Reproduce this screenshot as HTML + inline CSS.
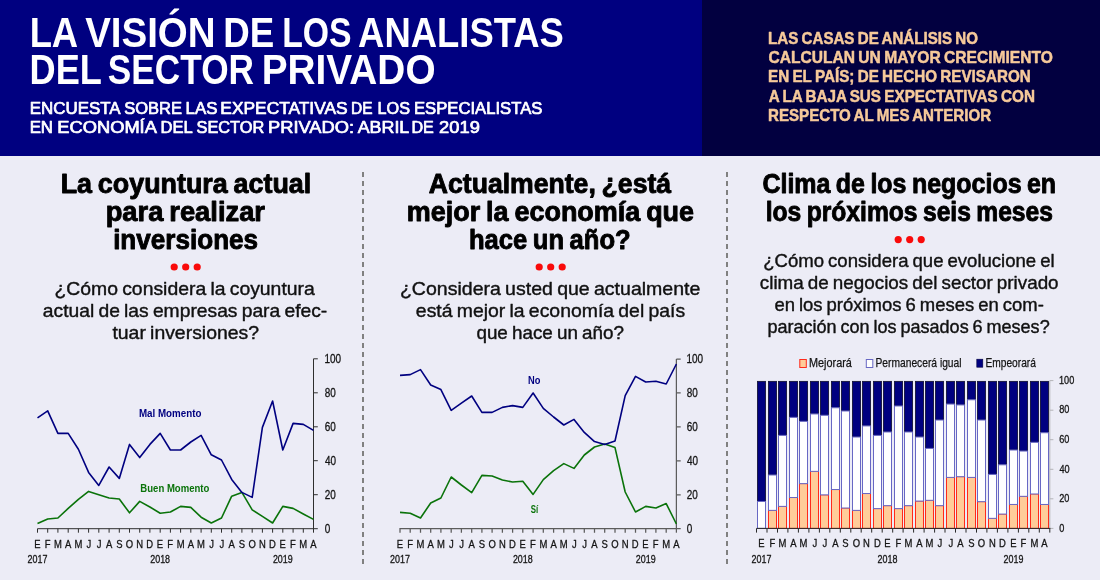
<!DOCTYPE html>
<html lang="es">
<head>
<meta charset="utf-8">
<title>La visión de los analistas del sector privado</title>
<style>
html,body{margin:0;padding:0;background:#ececf6;}
body{width:1100px;height:580px;overflow:hidden;}
svg{display:block;font-family:"Liberation Sans",sans-serif;}
text{white-space:pre;}
</style>
</head>
<body>
<svg width="1100" height="580" viewBox="0 0 1100 580">
<rect x="0" y="0" width="1100" height="580" fill="#ececf6"/>
<g id="header">
<rect x="0" y="0" width="702" height="156" fill="#000080"/>
<rect x="702" y="0" width="398" height="156" fill="#020040"/>
<text y="46.50" font-size="41.86" fill="#fff" font-weight="700"><tspan x="29.63" textLength="47.20" lengthAdjust="spacingAndGlyphs">LA</tspan> <tspan x="85.14" textLength="130.46" lengthAdjust="spacingAndGlyphs">VISIÓN</tspan> <tspan x="223.24" textLength="50.99" lengthAdjust="spacingAndGlyphs">DE</tspan> <tspan x="282.24" textLength="69.38" lengthAdjust="spacingAndGlyphs">LOS</tspan> <tspan x="358.10" textLength="205.80" lengthAdjust="spacingAndGlyphs">ANALISTAS</tspan></text>
<text y="84.00" font-size="41.86" fill="#fff" font-weight="700"><tspan x="29.60" textLength="71.70" lengthAdjust="spacingAndGlyphs">DEL</tspan> <tspan x="107.79" textLength="146.23" lengthAdjust="spacingAndGlyphs">SECTOR</tspan> <tspan x="261.65" textLength="173.96" lengthAdjust="spacingAndGlyphs">PRIVADO</tspan></text>
<text y="113.75" font-size="16.13" fill="#fff" stroke="#fff" stroke-width="0.7" stroke-linejoin="round"><tspan x="29.69" textLength="89.99" lengthAdjust="spacingAndGlyphs">ENCUESTA</tspan> <tspan x="124.20" textLength="57.76" lengthAdjust="spacingAndGlyphs">SOBRE</tspan> <tspan x="185.57" textLength="31.86" lengthAdjust="spacingAndGlyphs">LAS</tspan> <tspan x="220.37" textLength="127.25" lengthAdjust="spacingAndGlyphs">EXPECTATIVAS</tspan> <tspan x="351.08" textLength="21.54" lengthAdjust="spacingAndGlyphs">DE</tspan> <tspan x="377.52" textLength="32.48" lengthAdjust="spacingAndGlyphs">LOS</tspan> <tspan x="413.90" textLength="128.51" lengthAdjust="spacingAndGlyphs">ESPECIALISTAS</tspan></text>
<text y="133.05" font-size="16.13" fill="#fff" stroke="#fff" stroke-width="0.7" stroke-linejoin="round"><tspan x="29.67" textLength="23.35" lengthAdjust="spacingAndGlyphs">EN</tspan> <tspan x="57.37" textLength="98.52" lengthAdjust="spacingAndGlyphs">ECONOMÍA</tspan> <tspan x="160.51" textLength="31.68" lengthAdjust="spacingAndGlyphs">DEL</tspan> <tspan x="196.51" textLength="67.69" lengthAdjust="spacingAndGlyphs">SECTOR</tspan> <tspan x="268.08" textLength="85.92" lengthAdjust="spacingAndGlyphs">PRIVADO:</tspan> <tspan x="357.72" textLength="50.92" lengthAdjust="spacingAndGlyphs">ABRIL</tspan> <tspan x="411.43" textLength="22.42" lengthAdjust="spacingAndGlyphs">DE</tspan> <tspan x="439.13" textLength="40.69" lengthAdjust="spacingAndGlyphs">2019</tspan></text>
<text x="768.04" y="44.35" font-size="16.28" textLength="209.94" lengthAdjust="spacingAndGlyphs" fill="#f6c99a" font-weight="700" stroke="#f6c99a" stroke-width="0.5" stroke-linejoin="round"  word-spacing="-0.98">LAS CASAS DE ANÁLISIS NO</text>
<text x="768.42" y="63.35" font-size="16.28" textLength="284.38" lengthAdjust="spacingAndGlyphs" fill="#f6c99a" font-weight="700" stroke="#f6c99a" stroke-width="0.5" stroke-linejoin="round"  word-spacing="-0.98">CALCULAN UN MAYOR CRECIMIENTO</text>
<text x="768.04" y="82.45" font-size="16.28" textLength="262.73" lengthAdjust="spacingAndGlyphs" fill="#f6c99a" font-weight="700" stroke="#f6c99a" stroke-width="0.5" stroke-linejoin="round"  word-spacing="-0.98">EN EL PAÍS; DE HECHO REVISARON</text>
<text x="768.68" y="101.55" font-size="16.28" textLength="266.28" lengthAdjust="spacingAndGlyphs" fill="#f6c99a" font-weight="700" stroke="#f6c99a" stroke-width="0.5" stroke-linejoin="round"  word-spacing="-0.98">A LA BAJA SUS EXPECTATIVAS CON</text>
<text x="768.05" y="120.65" font-size="16.28" textLength="223.01" lengthAdjust="spacingAndGlyphs" fill="#f6c99a" font-weight="700" stroke="#f6c99a" stroke-width="0.5" stroke-linejoin="round"  word-spacing="-0.98">RESPECTO AL MES ANTERIOR</text>
</g>
<line x1="363" y1="172" x2="363" y2="564" stroke="#808080" stroke-width="2" stroke-dasharray="5 4"/>
<line x1="727" y1="172" x2="727" y2="564" stroke="#808080" stroke-width="2" stroke-dasharray="5 4"/>
<g id="panel1">
<text x="60.65" y="193.35" font-size="27.20" textLength="250.60" lengthAdjust="spacingAndGlyphs" fill="#000" font-weight="700" stroke="#000" stroke-width="0.9" stroke-linejoin="round"  word-spacing="-1.63">La coyuntura actual</text>
<text x="105.65" y="221.05" font-size="27.20" textLength="159.31" lengthAdjust="spacingAndGlyphs" fill="#000" font-weight="700" stroke="#000" stroke-width="0.9" stroke-linejoin="round"  word-spacing="-1.63">para realizar</text>
<text x="113.13" y="248.55" font-size="27.20" textLength="144.99" lengthAdjust="spacingAndGlyphs" fill="#000" font-weight="700" stroke="#000" stroke-width="0.9" stroke-linejoin="round">inversiones</text>
<circle cx="174.20" cy="267" r="3.6" fill="#f90a0a"/>
<circle cx="185.70" cy="267" r="3.6" fill="#f90a0a"/>
<circle cx="197.20" cy="267" r="3.6" fill="#f90a0a"/>
<text x="54.46" y="295.40" font-size="18.50" textLength="260.34" lengthAdjust="spacingAndGlyphs" fill="#111" stroke="#111" stroke-width="0.4" stroke-linejoin="round"  word-spacing="-1.11">¿Cómo considera la coyuntura</text>
<text x="42.88" y="317.10" font-size="18.50" textLength="284.37" lengthAdjust="spacingAndGlyphs" fill="#111" stroke="#111" stroke-width="0.4" stroke-linejoin="round"  word-spacing="-1.11">actual de las empresas para efec-</text>
<text x="112.41" y="338.80" font-size="18.50" textLength="146.61" lengthAdjust="spacingAndGlyphs" fill="#111" stroke="#111" stroke-width="0.4" stroke-linejoin="round"  word-spacing="-1.11">tuar inversiones?</text>
</g>
<g id="panel2">
<text x="428.79" y="193.35" font-size="27.20" textLength="242.30" lengthAdjust="spacingAndGlyphs" fill="#000" font-weight="700" stroke="#000" stroke-width="0.9" stroke-linejoin="round"  word-spacing="-1.63">Actualmente, ¿está</text>
<text x="406.87" y="221.05" font-size="27.20" textLength="287.20" lengthAdjust="spacingAndGlyphs" fill="#000" font-weight="700" stroke="#000" stroke-width="0.9" stroke-linejoin="round"  word-spacing="-1.63">mejor la economía que</text>
<text x="468.96" y="248.55" font-size="27.20" textLength="161.76" lengthAdjust="spacingAndGlyphs" fill="#000" font-weight="700" stroke="#000" stroke-width="0.9" stroke-linejoin="round"  word-spacing="-1.63">hace un año?</text>
<circle cx="539.20" cy="267" r="3.6" fill="#f90a0a"/>
<circle cx="550.70" cy="267" r="3.6" fill="#f90a0a"/>
<circle cx="562.20" cy="267" r="3.6" fill="#f90a0a"/>
<text x="399.95" y="295.40" font-size="18.50" textLength="300.42" lengthAdjust="spacingAndGlyphs" fill="#111" stroke="#111" stroke-width="0.4" stroke-linejoin="round"  word-spacing="-1.11">¿Considera usted que actualmente</text>
<text x="415.88" y="316.90" font-size="18.50" textLength="269.23" lengthAdjust="spacingAndGlyphs" fill="#111" stroke="#111" stroke-width="0.4" stroke-linejoin="round"  word-spacing="-1.11">está mejor la economía del país</text>
<text x="476.41" y="338.80" font-size="18.50" textLength="147.49" lengthAdjust="spacingAndGlyphs" fill="#111" stroke="#111" stroke-width="0.4" stroke-linejoin="round"  word-spacing="-1.11">que hace un año?</text>
</g>
<g id="panel3">
<text x="762.43" y="193.25" font-size="27.20" textLength="293.67" lengthAdjust="spacingAndGlyphs" fill="#000" font-weight="700" stroke="#000" stroke-width="0.9" stroke-linejoin="round"  word-spacing="-1.63">Clima de los negocios en</text>
<text x="765.73" y="221.15" font-size="27.20" textLength="287.23" lengthAdjust="spacingAndGlyphs" fill="#000" font-weight="700" stroke="#000" stroke-width="0.9" stroke-linejoin="round"  word-spacing="-1.63">los próximos seis meses</text>
<circle cx="898.20" cy="239.6" r="3.6" fill="#f90a0a"/>
<circle cx="909.70" cy="239.6" r="3.6" fill="#f90a0a"/>
<circle cx="921.20" cy="239.6" r="3.6" fill="#f90a0a"/>
<text x="763.21" y="267.00" font-size="18.50" textLength="291.43" lengthAdjust="spacingAndGlyphs" fill="#111" stroke="#111" stroke-width="0.4" stroke-linejoin="round"  word-spacing="-1.11">¿Cómo considera que evolucione el</text>
<text x="759.80" y="289.00" font-size="18.50" textLength="298.79" lengthAdjust="spacingAndGlyphs" fill="#111" stroke="#111" stroke-width="0.4" stroke-linejoin="round"  word-spacing="-1.11">clima de negocios del sector privado</text>
<text x="774.42" y="311.00" font-size="18.50" textLength="269.40" lengthAdjust="spacingAndGlyphs" fill="#111" stroke="#111" stroke-width="0.4" stroke-linejoin="round"  word-spacing="-1.11">en los próximos 6 meses en com-</text>
<text x="767.44" y="333.00" font-size="18.50" textLength="282.23" lengthAdjust="spacingAndGlyphs" fill="#111" stroke="#111" stroke-width="0.4" stroke-linejoin="round"  word-spacing="-1.11">paración con los pasados 6 meses?</text>
</g>
<g id="chart1">
<path d="M37.5 532.7V528.7H313.5" fill="none" stroke="#2e2e2e" stroke-width="1"/>
<path d="M313.5 358.8V532.7" fill="none" stroke="#2e2e2e" stroke-width="1"/>
<path d="M47.7 528.7v4M57.9 528.7v4M68.2 528.7v4M78.4 528.7v4M88.6 528.7v4M98.8 528.7v4M109.1 528.7v4M119.3 528.7v4M129.5 528.7v4M139.7 528.7v4M149.9 528.7v4M160.2 528.7v4M170.4 528.7v4M180.6 528.7v4M190.8 528.7v4M201.1 528.7v4M211.3 528.7v4M221.5 528.7v4M231.7 528.7v4M241.9 528.7v4M252.2 528.7v4M262.4 528.7v4M272.6 528.7v4M282.8 528.7v4M293.1 528.7v4M303.3 528.7v4M313.5 358.8h4.3M313.5 392.8h4.3M313.5 426.8h4.3M313.5 460.7h4.3M313.5 494.7h4.3M313.5 528.7h4.3" fill="none" stroke="#2e2e2e" stroke-width="1"/>
<text x="324.49" y="362.65" font-size="12.00" textLength="16.62" lengthAdjust="spacingAndGlyphs" fill="#141414" stroke="#141414" stroke-width="0.3" stroke-linejoin="round">100</text>
<text x="324.82" y="396.63" font-size="12.00" textLength="11.08" lengthAdjust="spacingAndGlyphs" fill="#141414" stroke="#141414" stroke-width="0.3" stroke-linejoin="round">80</text>
<text x="324.74" y="430.61" font-size="12.00" textLength="11.08" lengthAdjust="spacingAndGlyphs" fill="#141414" stroke="#141414" stroke-width="0.3" stroke-linejoin="round">60</text>
<text x="325.02" y="464.59" font-size="12.00" textLength="11.08" lengthAdjust="spacingAndGlyphs" fill="#141414" stroke="#141414" stroke-width="0.3" stroke-linejoin="round">40</text>
<text x="324.75" y="498.57" font-size="12.00" textLength="11.08" lengthAdjust="spacingAndGlyphs" fill="#141414" stroke="#141414" stroke-width="0.3" stroke-linejoin="round">20</text>
<text x="324.86" y="532.55" font-size="12.00" textLength="5.54" lengthAdjust="spacingAndGlyphs" fill="#141414" stroke="#141414" stroke-width="0.3" stroke-linejoin="round">0</text>
<text x="34.16" y="547.85" font-size="11.00" textLength="6.31" lengthAdjust="spacingAndGlyphs" fill="#141414" stroke="#141414" stroke-width="0.3" stroke-linejoin="round">E</text>
<text x="44.63" y="547.85" font-size="11.00" textLength="5.78" lengthAdjust="spacingAndGlyphs" fill="#141414" stroke="#141414" stroke-width="0.3" stroke-linejoin="round">F</text>
<text x="54.00" y="547.85" font-size="11.00" textLength="7.88" lengthAdjust="spacingAndGlyphs" fill="#141414" stroke="#141414" stroke-width="0.3" stroke-linejoin="round">M</text>
<text x="65.01" y="547.85" font-size="11.00" textLength="6.31" lengthAdjust="spacingAndGlyphs" fill="#141414" stroke="#141414" stroke-width="0.3" stroke-linejoin="round">A</text>
<text x="74.45" y="547.85" font-size="11.00" textLength="7.88" lengthAdjust="spacingAndGlyphs" fill="#141414" stroke="#141414" stroke-width="0.3" stroke-linejoin="round">M</text>
<text x="86.52" y="547.85" font-size="11.00" textLength="4.73" lengthAdjust="spacingAndGlyphs" fill="#141414" stroke="#141414" stroke-width="0.3" stroke-linejoin="round">J</text>
<text x="96.75" y="547.85" font-size="11.00" textLength="4.73" lengthAdjust="spacingAndGlyphs" fill="#141414" stroke="#141414" stroke-width="0.3" stroke-linejoin="round">J</text>
<text x="105.90" y="547.85" font-size="11.00" textLength="6.31" lengthAdjust="spacingAndGlyphs" fill="#141414" stroke="#141414" stroke-width="0.3" stroke-linejoin="round">A</text>
<text x="116.13" y="547.85" font-size="11.00" textLength="6.31" lengthAdjust="spacingAndGlyphs" fill="#141414" stroke="#141414" stroke-width="0.3" stroke-linejoin="round">S</text>
<text x="125.82" y="547.85" font-size="11.00" textLength="7.36" lengthAdjust="spacingAndGlyphs" fill="#141414" stroke="#141414" stroke-width="0.3" stroke-linejoin="round">O</text>
<text x="136.30" y="547.85" font-size="11.00" textLength="6.83" lengthAdjust="spacingAndGlyphs" fill="#141414" stroke="#141414" stroke-width="0.3" stroke-linejoin="round">N</text>
<text x="146.37" y="547.85" font-size="11.00" textLength="6.83" lengthAdjust="spacingAndGlyphs" fill="#141414" stroke="#141414" stroke-width="0.3" stroke-linejoin="round">D</text>
<text x="156.83" y="547.85" font-size="11.00" textLength="6.31" lengthAdjust="spacingAndGlyphs" fill="#141414" stroke="#141414" stroke-width="0.3" stroke-linejoin="round">E</text>
<text x="167.30" y="547.85" font-size="11.00" textLength="5.78" lengthAdjust="spacingAndGlyphs" fill="#141414" stroke="#141414" stroke-width="0.3" stroke-linejoin="round">F</text>
<text x="176.67" y="547.85" font-size="11.00" textLength="7.88" lengthAdjust="spacingAndGlyphs" fill="#141414" stroke="#141414" stroke-width="0.3" stroke-linejoin="round">M</text>
<text x="187.68" y="547.85" font-size="11.00" textLength="6.31" lengthAdjust="spacingAndGlyphs" fill="#141414" stroke="#141414" stroke-width="0.3" stroke-linejoin="round">A</text>
<text x="197.12" y="547.85" font-size="11.00" textLength="7.88" lengthAdjust="spacingAndGlyphs" fill="#141414" stroke="#141414" stroke-width="0.3" stroke-linejoin="round">M</text>
<text x="209.19" y="547.85" font-size="11.00" textLength="4.73" lengthAdjust="spacingAndGlyphs" fill="#141414" stroke="#141414" stroke-width="0.3" stroke-linejoin="round">J</text>
<text x="219.41" y="547.85" font-size="11.00" textLength="4.73" lengthAdjust="spacingAndGlyphs" fill="#141414" stroke="#141414" stroke-width="0.3" stroke-linejoin="round">J</text>
<text x="228.57" y="547.85" font-size="11.00" textLength="6.31" lengthAdjust="spacingAndGlyphs" fill="#141414" stroke="#141414" stroke-width="0.3" stroke-linejoin="round">A</text>
<text x="238.79" y="547.85" font-size="11.00" textLength="6.31" lengthAdjust="spacingAndGlyphs" fill="#141414" stroke="#141414" stroke-width="0.3" stroke-linejoin="round">S</text>
<text x="248.49" y="547.85" font-size="11.00" textLength="7.36" lengthAdjust="spacingAndGlyphs" fill="#141414" stroke="#141414" stroke-width="0.3" stroke-linejoin="round">O</text>
<text x="258.97" y="547.85" font-size="11.00" textLength="6.83" lengthAdjust="spacingAndGlyphs" fill="#141414" stroke="#141414" stroke-width="0.3" stroke-linejoin="round">N</text>
<text x="269.03" y="547.85" font-size="11.00" textLength="6.83" lengthAdjust="spacingAndGlyphs" fill="#141414" stroke="#141414" stroke-width="0.3" stroke-linejoin="round">D</text>
<text x="279.49" y="547.85" font-size="11.00" textLength="6.31" lengthAdjust="spacingAndGlyphs" fill="#141414" stroke="#141414" stroke-width="0.3" stroke-linejoin="round">E</text>
<text x="289.97" y="547.85" font-size="11.00" textLength="5.78" lengthAdjust="spacingAndGlyphs" fill="#141414" stroke="#141414" stroke-width="0.3" stroke-linejoin="round">F</text>
<text x="299.34" y="547.85" font-size="11.00" textLength="7.88" lengthAdjust="spacingAndGlyphs" fill="#141414" stroke="#141414" stroke-width="0.3" stroke-linejoin="round">M</text>
<text x="310.35" y="547.85" font-size="11.00" textLength="6.31" lengthAdjust="spacingAndGlyphs" fill="#141414" stroke="#141414" stroke-width="0.3" stroke-linejoin="round">A</text>
<text x="27.57" y="562.85" font-size="11.30" textLength="19.86" lengthAdjust="spacingAndGlyphs" fill="#141414" stroke="#141414" stroke-width="0.3" stroke-linejoin="round">2017</text>
<text x="150.21" y="562.85" font-size="11.30" textLength="19.86" lengthAdjust="spacingAndGlyphs" fill="#141414" stroke="#141414" stroke-width="0.3" stroke-linejoin="round">2018</text>
<text x="272.89" y="562.85" font-size="11.30" textLength="19.86" lengthAdjust="spacingAndGlyphs" fill="#141414" stroke="#141414" stroke-width="0.3" stroke-linejoin="round">2019</text>
<path d="M37.5 523.4 L47.7 519.0 L57.9 518.0 L68.2 508.4 L78.4 499.4 L88.6 491.4 L98.8 494.8 L109.1 498.0 L119.3 499.0 L129.5 512.8 L139.7 501.4 L149.9 507.0 L160.2 513.2 L170.4 512.0 L180.6 506.4 L190.8 507.4 L201.1 517.2 L211.3 523.0 L221.5 518.0 L231.7 496.2 L241.9 492.4 L252.2 509.8 L262.4 516.4 L272.6 523.0 L282.8 506.4 L293.1 508.4 L303.3 514.0 L313.5 519.4" fill="none" stroke="#0a730a" stroke-width="1.6" stroke-linejoin="round" stroke-linecap="butt"/>
<path d="M37.5 417.8 L47.7 410.8 L57.9 433.4 L68.2 433.4 L78.4 449.2 L88.6 472.4 L98.8 485.4 L109.1 467.0 L119.3 478.4 L129.5 444.4 L139.7 457.6 L149.9 444.4 L160.2 433.4 L170.4 450.0 L180.6 450.0 L190.8 442.0 L201.1 435.4 L211.3 454.8 L221.5 460.0 L231.7 479.4 L241.9 492.4 L252.2 497.4 L262.4 427.4 L272.6 401.0 L282.8 450.0 L293.1 423.4 L303.3 424.4 L313.5 430.4" fill="none" stroke="#000080" stroke-width="1.6" stroke-linejoin="round" stroke-linecap="butt"/>
<text x="138.95" y="416.90" font-size="11.48" textLength="62.44" lengthAdjust="spacingAndGlyphs" fill="#000080" font-weight="700">Mal Momento</text>
<text x="140.36" y="491.90" font-size="11.48" textLength="69.01" lengthAdjust="spacingAndGlyphs" fill="#0a730a" font-weight="700">Buen Momento</text>
</g>
<g id="chart2">
<path d="M400.0 532.7V528.7H676.4" fill="none" stroke="#5c5c5c" stroke-width="1.25"/>
<path d="M676.4 359.0V532.7" fill="none" stroke="#5c5c5c" stroke-width="1.25"/>
<path d="M410.2 528.7v4M420.5 528.7v4M430.7 528.7v4M440.9 528.7v4M451.2 528.7v4M461.4 528.7v4M471.7 528.7v4M481.9 528.7v4M492.1 528.7v4M502.4 528.7v4M512.6 528.7v4M522.8 528.7v4M533.1 528.7v4M543.3 528.7v4M553.6 528.7v4M563.8 528.7v4M574.0 528.7v4M584.3 528.7v4M594.5 528.7v4M604.7 528.7v4M615.0 528.7v4M625.2 528.7v4M635.5 528.7v4M645.7 528.7v4M655.9 528.7v4M666.2 528.7v4M676.4 359.0h4.3M676.4 392.9h4.3M676.4 426.9h4.3M676.4 460.8h4.3M676.4 494.8h4.3M676.4 528.7h4.3" fill="none" stroke="#5c5c5c" stroke-width="1.25"/>
<text x="686.49" y="362.85" font-size="12.00" textLength="16.62" lengthAdjust="spacingAndGlyphs" fill="#141414" stroke="#141414" stroke-width="0.3" stroke-linejoin="round">100</text>
<text x="686.82" y="396.79" font-size="12.00" textLength="11.08" lengthAdjust="spacingAndGlyphs" fill="#141414" stroke="#141414" stroke-width="0.3" stroke-linejoin="round">80</text>
<text x="686.74" y="430.73" font-size="12.00" textLength="11.08" lengthAdjust="spacingAndGlyphs" fill="#141414" stroke="#141414" stroke-width="0.3" stroke-linejoin="round">60</text>
<text x="687.02" y="464.67" font-size="12.00" textLength="11.08" lengthAdjust="spacingAndGlyphs" fill="#141414" stroke="#141414" stroke-width="0.3" stroke-linejoin="round">40</text>
<text x="686.75" y="498.61" font-size="12.00" textLength="11.08" lengthAdjust="spacingAndGlyphs" fill="#141414" stroke="#141414" stroke-width="0.3" stroke-linejoin="round">20</text>
<text x="686.86" y="532.55" font-size="12.00" textLength="5.54" lengthAdjust="spacingAndGlyphs" fill="#141414" stroke="#141414" stroke-width="0.3" stroke-linejoin="round">0</text>
<text x="396.66" y="547.85" font-size="11.00" textLength="6.31" lengthAdjust="spacingAndGlyphs" fill="#141414" stroke="#141414" stroke-width="0.3" stroke-linejoin="round">E</text>
<text x="407.15" y="547.85" font-size="11.00" textLength="5.78" lengthAdjust="spacingAndGlyphs" fill="#141414" stroke="#141414" stroke-width="0.3" stroke-linejoin="round">F</text>
<text x="416.53" y="547.85" font-size="11.00" textLength="7.88" lengthAdjust="spacingAndGlyphs" fill="#141414" stroke="#141414" stroke-width="0.3" stroke-linejoin="round">M</text>
<text x="427.56" y="547.85" font-size="11.00" textLength="6.31" lengthAdjust="spacingAndGlyphs" fill="#141414" stroke="#141414" stroke-width="0.3" stroke-linejoin="round">A</text>
<text x="437.01" y="547.85" font-size="11.00" textLength="7.88" lengthAdjust="spacingAndGlyphs" fill="#141414" stroke="#141414" stroke-width="0.3" stroke-linejoin="round">M</text>
<text x="449.10" y="547.85" font-size="11.00" textLength="4.73" lengthAdjust="spacingAndGlyphs" fill="#141414" stroke="#141414" stroke-width="0.3" stroke-linejoin="round">J</text>
<text x="459.33" y="547.85" font-size="11.00" textLength="4.73" lengthAdjust="spacingAndGlyphs" fill="#141414" stroke="#141414" stroke-width="0.3" stroke-linejoin="round">J</text>
<text x="468.50" y="547.85" font-size="11.00" textLength="6.31" lengthAdjust="spacingAndGlyphs" fill="#141414" stroke="#141414" stroke-width="0.3" stroke-linejoin="round">A</text>
<text x="478.74" y="547.85" font-size="11.00" textLength="6.31" lengthAdjust="spacingAndGlyphs" fill="#141414" stroke="#141414" stroke-width="0.3" stroke-linejoin="round">S</text>
<text x="488.46" y="547.85" font-size="11.00" textLength="7.36" lengthAdjust="spacingAndGlyphs" fill="#141414" stroke="#141414" stroke-width="0.3" stroke-linejoin="round">O</text>
<text x="498.95" y="547.85" font-size="11.00" textLength="6.83" lengthAdjust="spacingAndGlyphs" fill="#141414" stroke="#141414" stroke-width="0.3" stroke-linejoin="round">N</text>
<text x="509.03" y="547.85" font-size="11.00" textLength="6.83" lengthAdjust="spacingAndGlyphs" fill="#141414" stroke="#141414" stroke-width="0.3" stroke-linejoin="round">D</text>
<text x="519.50" y="547.85" font-size="11.00" textLength="6.31" lengthAdjust="spacingAndGlyphs" fill="#141414" stroke="#141414" stroke-width="0.3" stroke-linejoin="round">E</text>
<text x="529.99" y="547.85" font-size="11.00" textLength="5.78" lengthAdjust="spacingAndGlyphs" fill="#141414" stroke="#141414" stroke-width="0.3" stroke-linejoin="round">F</text>
<text x="539.38" y="547.85" font-size="11.00" textLength="7.88" lengthAdjust="spacingAndGlyphs" fill="#141414" stroke="#141414" stroke-width="0.3" stroke-linejoin="round">M</text>
<text x="550.40" y="547.85" font-size="11.00" textLength="6.31" lengthAdjust="spacingAndGlyphs" fill="#141414" stroke="#141414" stroke-width="0.3" stroke-linejoin="round">A</text>
<text x="559.85" y="547.85" font-size="11.00" textLength="7.88" lengthAdjust="spacingAndGlyphs" fill="#141414" stroke="#141414" stroke-width="0.3" stroke-linejoin="round">M</text>
<text x="571.94" y="547.85" font-size="11.00" textLength="4.73" lengthAdjust="spacingAndGlyphs" fill="#141414" stroke="#141414" stroke-width="0.3" stroke-linejoin="round">J</text>
<text x="582.18" y="547.85" font-size="11.00" textLength="4.73" lengthAdjust="spacingAndGlyphs" fill="#141414" stroke="#141414" stroke-width="0.3" stroke-linejoin="round">J</text>
<text x="591.35" y="547.85" font-size="11.00" textLength="6.31" lengthAdjust="spacingAndGlyphs" fill="#141414" stroke="#141414" stroke-width="0.3" stroke-linejoin="round">A</text>
<text x="601.59" y="547.85" font-size="11.00" textLength="6.31" lengthAdjust="spacingAndGlyphs" fill="#141414" stroke="#141414" stroke-width="0.3" stroke-linejoin="round">S</text>
<text x="611.30" y="547.85" font-size="11.00" textLength="7.36" lengthAdjust="spacingAndGlyphs" fill="#141414" stroke="#141414" stroke-width="0.3" stroke-linejoin="round">O</text>
<text x="621.80" y="547.85" font-size="11.00" textLength="6.83" lengthAdjust="spacingAndGlyphs" fill="#141414" stroke="#141414" stroke-width="0.3" stroke-linejoin="round">N</text>
<text x="631.87" y="547.85" font-size="11.00" textLength="6.83" lengthAdjust="spacingAndGlyphs" fill="#141414" stroke="#141414" stroke-width="0.3" stroke-linejoin="round">D</text>
<text x="642.35" y="547.85" font-size="11.00" textLength="6.31" lengthAdjust="spacingAndGlyphs" fill="#141414" stroke="#141414" stroke-width="0.3" stroke-linejoin="round">E</text>
<text x="652.84" y="547.85" font-size="11.00" textLength="5.78" lengthAdjust="spacingAndGlyphs" fill="#141414" stroke="#141414" stroke-width="0.3" stroke-linejoin="round">F</text>
<text x="662.22" y="547.85" font-size="11.00" textLength="7.88" lengthAdjust="spacingAndGlyphs" fill="#141414" stroke="#141414" stroke-width="0.3" stroke-linejoin="round">M</text>
<text x="673.25" y="547.85" font-size="11.00" textLength="6.31" lengthAdjust="spacingAndGlyphs" fill="#141414" stroke="#141414" stroke-width="0.3" stroke-linejoin="round">A</text>
<text x="390.07" y="562.85" font-size="11.30" textLength="19.86" lengthAdjust="spacingAndGlyphs" fill="#141414" stroke="#141414" stroke-width="0.3" stroke-linejoin="round">2017</text>
<text x="512.88" y="562.85" font-size="11.30" textLength="19.86" lengthAdjust="spacingAndGlyphs" fill="#141414" stroke="#141414" stroke-width="0.3" stroke-linejoin="round">2018</text>
<text x="635.75" y="562.85" font-size="11.30" textLength="19.86" lengthAdjust="spacingAndGlyphs" fill="#141414" stroke="#141414" stroke-width="0.3" stroke-linejoin="round">2019</text>
<path d="M400.0 512.4 L410.2 513.2 L420.5 518.0 L430.7 503.0 L440.9 498.0 L451.2 477.0 L461.4 485.0 L471.7 492.6 L481.9 475.4 L492.1 476.0 L502.4 480.0 L512.6 482.0 L522.8 481.2 L533.1 494.4 L543.3 479.6 L553.6 470.6 L563.8 463.6 L574.0 468.4 L584.3 455.0 L594.5 447.0 L604.7 444.0 L615.0 447.6 L625.2 492.0 L635.5 512.0 L645.7 506.4 L655.9 508.0 L666.2 503.6 L676.4 524.0" fill="none" stroke="#0a730a" stroke-width="1.6" stroke-linejoin="round" stroke-linecap="butt"/>
<path d="M400.0 375.4 L410.2 374.6 L420.5 369.6 L430.7 385.0 L440.9 389.6 L451.2 410.4 L461.4 403.2 L471.7 396.0 L481.9 412.4 L492.1 412.4 L502.4 407.4 L512.6 405.6 L522.8 407.4 L533.1 393.0 L543.3 408.4 L553.6 417.0 L563.8 425.0 L574.0 419.4 L584.3 432.4 L594.5 441.6 L604.7 444.4 L615.0 441.0 L625.2 395.6 L635.5 376.4 L645.7 382.0 L655.9 381.2 L666.2 384.0 L676.4 364.0" fill="none" stroke="#000080" stroke-width="1.6" stroke-linejoin="round" stroke-linecap="butt"/>
<text x="527.98" y="383.60" font-size="11.48" textLength="12.38" lengthAdjust="spacingAndGlyphs" fill="#000080" font-weight="700">No</text>
<text x="530.77" y="512.60" font-size="11.48" textLength="7.42" lengthAdjust="spacingAndGlyphs" fill="#0a730a" font-weight="700">Sí</text>
</g>
<g id="chart3">
<path d="M1049.8 380.6V528.4M1049.8 380.6h3.6M1049.8 410.2h3.6M1049.8 439.7h3.6M1049.8 469.3h3.6M1049.8 498.8h3.6M1049.8 528.4h3.6" fill="none" stroke="#b4b4b8" stroke-width="1"/>
<rect x="757.5" y="381.40" width="8.0" height="120.06" fill="#000080" stroke="#15153a" stroke-width="0.9"/>
<rect x="757.5" y="501.46" width="8.0" height="26.94" fill="#fff" stroke="#6868c4" stroke-width="1"/>
<rect x="768.5" y="381.40" width="8.0" height="93.60" fill="#000080" stroke="#15153a" stroke-width="0.9"/>
<rect x="768.5" y="510.37" width="8.0" height="18.03" fill="#ffcc99" stroke="#ff2a1a" stroke-width="1"/>
<rect x="768.5" y="475.00" width="8.0" height="35.37" fill="#fff" stroke="#6868c4" stroke-width="1"/>
<rect x="778.5" y="381.40" width="8.0" height="53.99" fill="#000080" stroke="#15153a" stroke-width="0.9"/>
<rect x="778.5" y="506.38" width="8.0" height="22.02" fill="#ffcc99" stroke="#ff2a1a" stroke-width="1"/>
<rect x="778.5" y="435.39" width="8.0" height="70.99" fill="#fff" stroke="#6868c4" stroke-width="1"/>
<rect x="789.5" y="381.40" width="8.0" height="35.96" fill="#000080" stroke="#15153a" stroke-width="0.9"/>
<rect x="789.5" y="497.51" width="8.0" height="30.89" fill="#ffcc99" stroke="#ff2a1a" stroke-width="1"/>
<rect x="789.5" y="417.36" width="8.0" height="80.15" fill="#fff" stroke="#6868c4" stroke-width="1"/>
<rect x="799.5" y="381.40" width="8.0" height="39.95" fill="#000080" stroke="#15153a" stroke-width="0.9"/>
<rect x="799.5" y="483.62" width="8.0" height="44.78" fill="#ffcc99" stroke="#ff2a1a" stroke-width="1"/>
<rect x="799.5" y="421.35" width="8.0" height="62.27" fill="#fff" stroke="#6868c4" stroke-width="1"/>
<rect x="810.5" y="381.40" width="8.0" height="32.56" fill="#000080" stroke="#15153a" stroke-width="0.9"/>
<rect x="810.5" y="471.35" width="8.0" height="57.05" fill="#ffcc99" stroke="#ff2a1a" stroke-width="1"/>
<rect x="810.5" y="413.96" width="8.0" height="57.39" fill="#fff" stroke="#6868c4" stroke-width="1"/>
<rect x="820.5" y="381.40" width="8.0" height="33.89" fill="#000080" stroke="#15153a" stroke-width="0.9"/>
<rect x="820.5" y="494.85" width="8.0" height="33.55" fill="#ffcc99" stroke="#ff2a1a" stroke-width="1"/>
<rect x="820.5" y="415.29" width="8.0" height="79.56" fill="#fff" stroke="#6868c4" stroke-width="1"/>
<rect x="831.5" y="381.40" width="8.0" height="26.35" fill="#000080" stroke="#15153a" stroke-width="0.9"/>
<rect x="831.5" y="489.53" width="8.0" height="38.87" fill="#ffcc99" stroke="#ff2a1a" stroke-width="1"/>
<rect x="831.5" y="407.75" width="8.0" height="81.78" fill="#fff" stroke="#6868c4" stroke-width="1"/>
<rect x="841.5" y="381.40" width="8.0" height="29.60" fill="#000080" stroke="#15153a" stroke-width="0.9"/>
<rect x="841.5" y="508.00" width="8.0" height="20.40" fill="#ffcc99" stroke="#ff2a1a" stroke-width="1"/>
<rect x="841.5" y="411.00" width="8.0" height="97.00" fill="#fff" stroke="#6868c4" stroke-width="1"/>
<rect x="852.5" y="381.40" width="8.0" height="55.62" fill="#000080" stroke="#15153a" stroke-width="0.9"/>
<rect x="852.5" y="510.37" width="8.0" height="18.03" fill="#ffcc99" stroke="#ff2a1a" stroke-width="1"/>
<rect x="852.5" y="437.02" width="8.0" height="73.35" fill="#fff" stroke="#6868c4" stroke-width="1"/>
<rect x="862.5" y="381.40" width="8.0" height="44.53" fill="#000080" stroke="#15153a" stroke-width="0.9"/>
<rect x="862.5" y="493.52" width="8.0" height="34.88" fill="#ffcc99" stroke="#ff2a1a" stroke-width="1"/>
<rect x="862.5" y="425.93" width="8.0" height="67.59" fill="#fff" stroke="#6868c4" stroke-width="1"/>
<rect x="873.5" y="381.40" width="8.0" height="53.99" fill="#000080" stroke="#15153a" stroke-width="0.9"/>
<rect x="873.5" y="508.59" width="8.0" height="19.81" fill="#ffcc99" stroke="#ff2a1a" stroke-width="1"/>
<rect x="873.5" y="435.39" width="8.0" height="73.20" fill="#fff" stroke="#6868c4" stroke-width="1"/>
<rect x="883.5" y="381.40" width="8.0" height="50.59" fill="#000080" stroke="#15153a" stroke-width="0.9"/>
<rect x="883.5" y="505.64" width="8.0" height="22.76" fill="#ffcc99" stroke="#ff2a1a" stroke-width="1"/>
<rect x="883.5" y="431.99" width="8.0" height="73.65" fill="#fff" stroke="#6868c4" stroke-width="1"/>
<rect x="894.5" y="381.40" width="8.0" height="24.58" fill="#000080" stroke="#15153a" stroke-width="0.9"/>
<rect x="894.5" y="508.59" width="8.0" height="19.81" fill="#ffcc99" stroke="#ff2a1a" stroke-width="1"/>
<rect x="894.5" y="405.98" width="8.0" height="102.62" fill="#fff" stroke="#6868c4" stroke-width="1"/>
<rect x="904.5" y="381.40" width="8.0" height="50.59" fill="#000080" stroke="#15153a" stroke-width="0.9"/>
<rect x="904.5" y="505.64" width="8.0" height="22.76" fill="#ffcc99" stroke="#ff2a1a" stroke-width="1"/>
<rect x="904.5" y="431.99" width="8.0" height="73.65" fill="#fff" stroke="#6868c4" stroke-width="1"/>
<rect x="915.5" y="381.40" width="8.0" height="55.62" fill="#000080" stroke="#15153a" stroke-width="0.9"/>
<rect x="915.5" y="501.06" width="8.0" height="27.34" fill="#ffcc99" stroke="#ff2a1a" stroke-width="1"/>
<rect x="915.5" y="437.02" width="8.0" height="64.04" fill="#fff" stroke="#6868c4" stroke-width="1"/>
<rect x="925.5" y="381.40" width="8.0" height="67.00" fill="#000080" stroke="#15153a" stroke-width="0.9"/>
<rect x="925.5" y="500.32" width="8.0" height="28.08" fill="#ffcc99" stroke="#ff2a1a" stroke-width="1"/>
<rect x="925.5" y="448.40" width="8.0" height="51.92" fill="#fff" stroke="#6868c4" stroke-width="1"/>
<rect x="935.5" y="381.40" width="8.0" height="38.62" fill="#000080" stroke="#15153a" stroke-width="0.9"/>
<rect x="935.5" y="505.64" width="8.0" height="22.76" fill="#ffcc99" stroke="#ff2a1a" stroke-width="1"/>
<rect x="935.5" y="420.02" width="8.0" height="85.62" fill="#fff" stroke="#6868c4" stroke-width="1"/>
<rect x="946.5" y="381.40" width="8.0" height="22.66" fill="#000080" stroke="#15153a" stroke-width="0.9"/>
<rect x="946.5" y="477.41" width="8.0" height="50.99" fill="#ffcc99" stroke="#ff2a1a" stroke-width="1"/>
<rect x="946.5" y="404.06" width="8.0" height="73.35" fill="#fff" stroke="#6868c4" stroke-width="1"/>
<rect x="956.5" y="381.40" width="8.0" height="23.54" fill="#000080" stroke="#15153a" stroke-width="0.9"/>
<rect x="956.5" y="476.67" width="8.0" height="51.73" fill="#ffcc99" stroke="#ff2a1a" stroke-width="1"/>
<rect x="956.5" y="404.94" width="8.0" height="71.73" fill="#fff" stroke="#6868c4" stroke-width="1"/>
<rect x="967.5" y="381.40" width="8.0" height="18.37" fill="#000080" stroke="#15153a" stroke-width="0.9"/>
<rect x="967.5" y="477.41" width="8.0" height="50.99" fill="#ffcc99" stroke="#ff2a1a" stroke-width="1"/>
<rect x="967.5" y="399.77" width="8.0" height="77.64" fill="#fff" stroke="#6868c4" stroke-width="1"/>
<rect x="977.5" y="381.40" width="8.0" height="38.62" fill="#000080" stroke="#15153a" stroke-width="0.9"/>
<rect x="977.5" y="501.65" width="8.0" height="26.75" fill="#ffcc99" stroke="#ff2a1a" stroke-width="1"/>
<rect x="977.5" y="420.02" width="8.0" height="81.63" fill="#fff" stroke="#6868c4" stroke-width="1"/>
<rect x="988.5" y="381.40" width="8.0" height="93.01" fill="#000080" stroke="#15153a" stroke-width="0.9"/>
<rect x="988.5" y="518.35" width="8.0" height="10.05" fill="#ffcc99" stroke="#ff2a1a" stroke-width="1"/>
<rect x="988.5" y="474.41" width="8.0" height="43.94" fill="#fff" stroke="#6868c4" stroke-width="1"/>
<rect x="998.5" y="381.40" width="8.0" height="83.40" fill="#000080" stroke="#15153a" stroke-width="0.9"/>
<rect x="998.5" y="514.06" width="8.0" height="14.34" fill="#ffcc99" stroke="#ff2a1a" stroke-width="1"/>
<rect x="998.5" y="464.80" width="8.0" height="49.26" fill="#fff" stroke="#6868c4" stroke-width="1"/>
<rect x="1009.5" y="381.40" width="8.0" height="68.62" fill="#000080" stroke="#15153a" stroke-width="0.9"/>
<rect x="1009.5" y="504.46" width="8.0" height="23.94" fill="#ffcc99" stroke="#ff2a1a" stroke-width="1"/>
<rect x="1009.5" y="450.02" width="8.0" height="54.43" fill="#fff" stroke="#6868c4" stroke-width="1"/>
<rect x="1019.5" y="381.40" width="8.0" height="69.66" fill="#000080" stroke="#15153a" stroke-width="0.9"/>
<rect x="1019.5" y="496.33" width="8.0" height="32.07" fill="#ffcc99" stroke="#ff2a1a" stroke-width="1"/>
<rect x="1019.5" y="451.06" width="8.0" height="45.27" fill="#fff" stroke="#6868c4" stroke-width="1"/>
<rect x="1030.5" y="381.40" width="8.0" height="60.94" fill="#000080" stroke="#15153a" stroke-width="0.9"/>
<rect x="1030.5" y="493.96" width="8.0" height="34.44" fill="#ffcc99" stroke="#ff2a1a" stroke-width="1"/>
<rect x="1030.5" y="442.34" width="8.0" height="51.63" fill="#fff" stroke="#6868c4" stroke-width="1"/>
<rect x="1040.5" y="381.40" width="8.0" height="51.33" fill="#000080" stroke="#15153a" stroke-width="0.9"/>
<rect x="1040.5" y="504.46" width="8.0" height="23.94" fill="#ffcc99" stroke="#ff2a1a" stroke-width="1"/>
<rect x="1040.5" y="432.73" width="8.0" height="71.73" fill="#fff" stroke="#6868c4" stroke-width="1"/>
<path d="M756.5 528.4H1050.3M756.5 528.4v4.2M767.0 528.4v4.2M777.5 528.4v4.2M787.9 528.4v4.2M798.4 528.4v4.2M808.9 528.4v4.2M819.4 528.4v4.2M829.8 528.4v4.2M840.3 528.4v4.2M850.8 528.4v4.2M861.2 528.4v4.2M871.7 528.4v4.2M882.2 528.4v4.2M892.7 528.4v4.2M903.1 528.4v4.2M913.6 528.4v4.2M924.1 528.4v4.2M934.6 528.4v4.2M945.0 528.4v4.2M955.5 528.4v4.2M966.0 528.4v4.2M976.5 528.4v4.2M986.9 528.4v4.2M997.4 528.4v4.2M1007.9 528.4v4.2M1018.4 528.4v4.2M1028.8 528.4v4.2M1039.3 528.4v4.2M1049.8 528.4v4.2" fill="none" stroke="#2a2a2a" stroke-width="1"/>
<text x="1058.95" y="383.85" font-size="10.90" textLength="15.28" lengthAdjust="spacingAndGlyphs" fill="#141414" stroke="#141414" stroke-width="0.3" stroke-linejoin="round">100</text>
<text x="1059.25" y="413.41" font-size="10.90" textLength="10.18" lengthAdjust="spacingAndGlyphs" fill="#141414" stroke="#141414" stroke-width="0.3" stroke-linejoin="round">80</text>
<text x="1059.19" y="442.97" font-size="10.90" textLength="10.18" lengthAdjust="spacingAndGlyphs" fill="#141414" stroke="#141414" stroke-width="0.3" stroke-linejoin="round">60</text>
<text x="1059.44" y="472.53" font-size="10.90" textLength="10.18" lengthAdjust="spacingAndGlyphs" fill="#141414" stroke="#141414" stroke-width="0.3" stroke-linejoin="round">40</text>
<text x="1059.19" y="502.09" font-size="10.90" textLength="10.18" lengthAdjust="spacingAndGlyphs" fill="#141414" stroke="#141414" stroke-width="0.3" stroke-linejoin="round">20</text>
<text x="1059.29" y="531.65" font-size="10.90" textLength="5.09" lengthAdjust="spacingAndGlyphs" fill="#141414" stroke="#141414" stroke-width="0.3" stroke-linejoin="round">0</text>
<text x="758.16" y="547.35" font-size="11.00" textLength="6.31" lengthAdjust="spacingAndGlyphs" fill="#141414" stroke="#141414" stroke-width="0.3" stroke-linejoin="round">E</text>
<text x="769.41" y="547.35" font-size="11.00" textLength="5.78" lengthAdjust="spacingAndGlyphs" fill="#141414" stroke="#141414" stroke-width="0.3" stroke-linejoin="round">F</text>
<text x="778.56" y="547.35" font-size="11.00" textLength="7.88" lengthAdjust="spacingAndGlyphs" fill="#141414" stroke="#141414" stroke-width="0.3" stroke-linejoin="round">M</text>
<text x="790.35" y="547.35" font-size="11.00" textLength="6.31" lengthAdjust="spacingAndGlyphs" fill="#141414" stroke="#141414" stroke-width="0.3" stroke-linejoin="round">A</text>
<text x="799.56" y="547.35" font-size="11.00" textLength="7.88" lengthAdjust="spacingAndGlyphs" fill="#141414" stroke="#141414" stroke-width="0.3" stroke-linejoin="round">M</text>
<text x="812.41" y="547.35" font-size="11.00" textLength="4.73" lengthAdjust="spacingAndGlyphs" fill="#141414" stroke="#141414" stroke-width="0.3" stroke-linejoin="round">J</text>
<text x="822.41" y="547.35" font-size="11.00" textLength="4.73" lengthAdjust="spacingAndGlyphs" fill="#141414" stroke="#141414" stroke-width="0.3" stroke-linejoin="round">J</text>
<text x="832.35" y="547.35" font-size="11.00" textLength="6.31" lengthAdjust="spacingAndGlyphs" fill="#141414" stroke="#141414" stroke-width="0.3" stroke-linejoin="round">A</text>
<text x="842.35" y="547.35" font-size="11.00" textLength="6.31" lengthAdjust="spacingAndGlyphs" fill="#141414" stroke="#141414" stroke-width="0.3" stroke-linejoin="round">S</text>
<text x="852.82" y="547.35" font-size="11.00" textLength="7.36" lengthAdjust="spacingAndGlyphs" fill="#141414" stroke="#141414" stroke-width="0.3" stroke-linejoin="round">O</text>
<text x="863.08" y="547.35" font-size="11.00" textLength="6.83" lengthAdjust="spacingAndGlyphs" fill="#141414" stroke="#141414" stroke-width="0.3" stroke-linejoin="round">N</text>
<text x="873.92" y="547.35" font-size="11.00" textLength="6.83" lengthAdjust="spacingAndGlyphs" fill="#141414" stroke="#141414" stroke-width="0.3" stroke-linejoin="round">D</text>
<text x="884.16" y="547.35" font-size="11.00" textLength="6.31" lengthAdjust="spacingAndGlyphs" fill="#141414" stroke="#141414" stroke-width="0.3" stroke-linejoin="round">E</text>
<text x="895.41" y="547.35" font-size="11.00" textLength="5.78" lengthAdjust="spacingAndGlyphs" fill="#141414" stroke="#141414" stroke-width="0.3" stroke-linejoin="round">F</text>
<text x="904.56" y="547.35" font-size="11.00" textLength="7.88" lengthAdjust="spacingAndGlyphs" fill="#141414" stroke="#141414" stroke-width="0.3" stroke-linejoin="round">M</text>
<text x="916.35" y="547.35" font-size="11.00" textLength="6.31" lengthAdjust="spacingAndGlyphs" fill="#141414" stroke="#141414" stroke-width="0.3" stroke-linejoin="round">A</text>
<text x="925.56" y="547.35" font-size="11.00" textLength="7.88" lengthAdjust="spacingAndGlyphs" fill="#141414" stroke="#141414" stroke-width="0.3" stroke-linejoin="round">M</text>
<text x="937.41" y="547.35" font-size="11.00" textLength="4.73" lengthAdjust="spacingAndGlyphs" fill="#141414" stroke="#141414" stroke-width="0.3" stroke-linejoin="round">J</text>
<text x="948.41" y="547.35" font-size="11.00" textLength="4.73" lengthAdjust="spacingAndGlyphs" fill="#141414" stroke="#141414" stroke-width="0.3" stroke-linejoin="round">J</text>
<text x="957.35" y="547.35" font-size="11.00" textLength="6.31" lengthAdjust="spacingAndGlyphs" fill="#141414" stroke="#141414" stroke-width="0.3" stroke-linejoin="round">A</text>
<text x="968.35" y="547.35" font-size="11.00" textLength="6.31" lengthAdjust="spacingAndGlyphs" fill="#141414" stroke="#141414" stroke-width="0.3" stroke-linejoin="round">S</text>
<text x="977.82" y="547.35" font-size="11.00" textLength="7.36" lengthAdjust="spacingAndGlyphs" fill="#141414" stroke="#141414" stroke-width="0.3" stroke-linejoin="round">O</text>
<text x="989.08" y="547.35" font-size="11.00" textLength="6.83" lengthAdjust="spacingAndGlyphs" fill="#141414" stroke="#141414" stroke-width="0.3" stroke-linejoin="round">N</text>
<text x="998.92" y="547.35" font-size="11.00" textLength="6.83" lengthAdjust="spacingAndGlyphs" fill="#141414" stroke="#141414" stroke-width="0.3" stroke-linejoin="round">D</text>
<text x="1010.16" y="547.35" font-size="11.00" textLength="6.31" lengthAdjust="spacingAndGlyphs" fill="#141414" stroke="#141414" stroke-width="0.3" stroke-linejoin="round">E</text>
<text x="1020.41" y="547.35" font-size="11.00" textLength="5.78" lengthAdjust="spacingAndGlyphs" fill="#141414" stroke="#141414" stroke-width="0.3" stroke-linejoin="round">F</text>
<text x="1030.56" y="547.35" font-size="11.00" textLength="7.88" lengthAdjust="spacingAndGlyphs" fill="#141414" stroke="#141414" stroke-width="0.3" stroke-linejoin="round">M</text>
<text x="1041.35" y="547.35" font-size="11.00" textLength="6.31" lengthAdjust="spacingAndGlyphs" fill="#141414" stroke="#141414" stroke-width="0.3" stroke-linejoin="round">A</text>
<text x="751.57" y="562.85" font-size="11.30" textLength="19.86" lengthAdjust="spacingAndGlyphs" fill="#141414" stroke="#141414" stroke-width="0.3" stroke-linejoin="round">2017</text>
<text x="877.54" y="562.85" font-size="11.30" textLength="19.86" lengthAdjust="spacingAndGlyphs" fill="#141414" stroke="#141414" stroke-width="0.3" stroke-linejoin="round">2018</text>
<text x="1003.56" y="562.85" font-size="11.30" textLength="19.86" lengthAdjust="spacingAndGlyphs" fill="#141414" stroke="#141414" stroke-width="0.3" stroke-linejoin="round">2019</text>
<rect x="799.8" y="359.5" width="6.5" height="8" fill="#ffcc99" stroke="#ff2a1a" stroke-width="1"/>
<text x="809.03" y="366.98" font-size="12.43" textLength="42.84" lengthAdjust="spacingAndGlyphs" fill="#141414" stroke="#141414" stroke-width="0.25" stroke-linejoin="round">Mejorará</text>
<rect x="866.3" y="359.5" width="6.5" height="8" fill="#fff" stroke="#6868c4" stroke-width="1"/>
<text x="875.48" y="366.98" font-size="12.43" textLength="86.08" lengthAdjust="spacingAndGlyphs" fill="#141414" stroke="#141414" stroke-width="0.25" stroke-linejoin="round">Permanecerá igual</text>
<rect x="976.8" y="359.2" width="6" height="8" fill="#000080" stroke="#000040" stroke-width="0.6"/>
<text x="985.49" y="366.98" font-size="12.43" textLength="50.39" lengthAdjust="spacingAndGlyphs" fill="#141414" stroke="#141414" stroke-width="0.25" stroke-linejoin="round">Empeorará</text>
</g>
</svg>
</body>
</html>
